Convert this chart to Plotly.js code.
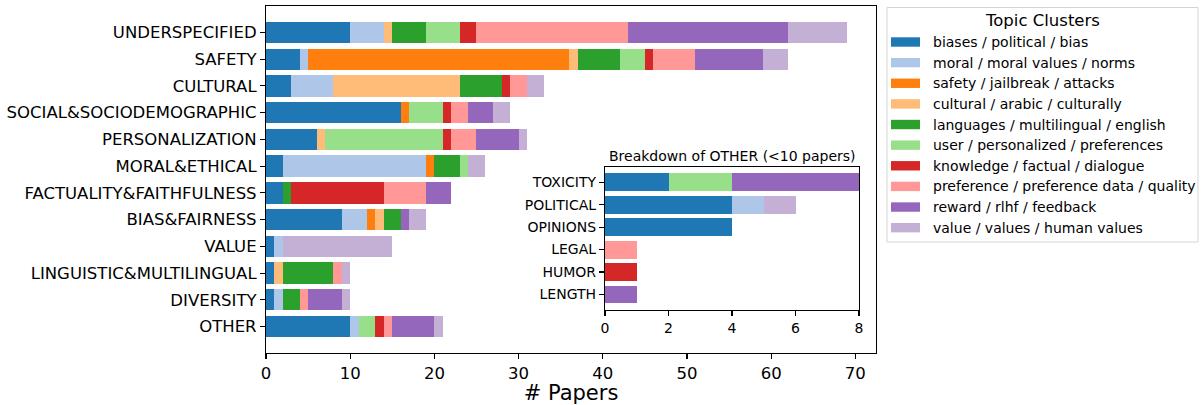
<!DOCTYPE html>
<html>
<head>
<meta charset="utf-8">
<script src="https://cdn.plot.ly/plotly-3.0.1.min.js"></script>
<style>html,body{margin:0;padding:0;background:#fff;}#chart{width:1203px;height:405px;}</style>
</head>
<body>
<div id="chart"></div>
<script>
// ---- data ----
const categories = ["UNDERSPECIFIED","SAFETY","CULTURAL","SOCIAL&SOCIODEMOGRAPHIC","PERSONALIZATION","MORAL&ETHICAL","FACTUALITY&FAITHFULNESS","BIAS&FAIRNESS","VALUE","LINGUISTIC&MULTILINGUAL","DIVERSITY","OTHER"];
const clusterNames = ["biases / political / bias","moral / moral values / norms","safety / jailbreak / attacks","cultural / arabic / culturally","languages / multilingual / english","user / personalized / preferences","knowledge / factual / dialogue","preference / preference data / quality","reward / rlhf / feedback","value / values / human values"];
const clusterColors = ["#1f77b4","#aec7e8","#ff7f0e","#ffbb78","#2ca02c","#98df8a","#d62728","#ff9896","#9467bd","#c5b0d5"];

const biases     = [10, 4,  3, 16,  6,  2,  2, 9,  1, 1, 1, 10];
const moral      = [ 4, 1,  5,  0,  0, 17,  0, 3,  1, 0, 1,  1];
const safety     = [ 0,31,  0,  1,  0,  1,  0, 1,  0, 0, 0,  0];
const cultural   = [ 1, 1, 15,  0,  1,  0,  0, 1,  0, 1, 0,  0];
const languages  = [ 4, 5,  5,  0,  0,  3,  1, 2,  0, 6, 2,  0];
const user       = [ 4, 3,  0,  4, 14,  1,  0, 0,  0, 0, 0,  2];
const knowledge  = [ 2, 1,  1,  1,  1,  0, 11, 0,  0, 0, 0,  1];
const preference = [18, 5,  2,  2,  3,  0,  5, 0,  0, 1, 1,  1];
const reward     = [19, 8,  0,  3,  5,  0,  3, 1,  0, 0, 4,  5];
const value      = [ 7, 3,  2,  2,  1,  2,  0, 2, 13, 1, 1,  1];

const otherCategories = ["TOXICITY","POLITICAL","OPINIONS","LEGAL","HUMOR","LENGTH"];
const oBiases     = [2,4,4,0,0,0];
const oMoral      = [0,1,0,0,0,0];
const oSafety     = [0,0,0,0,0,0];
const oCultural   = [0,0,0,0,0,0];
const oLanguages  = [0,0,0,0,0,0];
const oUser       = [2,0,0,0,0,0];
const oKnowledge  = [0,0,0,0,1,0];
const oPreference = [0,0,0,1,0,0];
const oReward     = [4,0,0,0,0,1];
const oValue      = [0,1,0,0,0,0];

const mainSeries = [biases,moral,safety,cultural,languages,user,knowledge,preference,reward,value];
const otherSeries = [oBiases,oMoral,oSafety,oCultural,oLanguages,oUser,oKnowledge,oPreference,oReward,oValue];

// ---- geometry helpers (pixel -> paper) ----
const L = 266, R = 876, T = 6, B = 353;
const W = 1203, H = 405;
const xp = px => (px - L) / (R - L);
const yp = py => (B - py) / (B - T);
const FONT = "DejaVu Sans";

const traces = [];
mainSeries.forEach((s, i) => {
  traces.push({type:"bar", orientation:"h", x:s, y:categories, name:clusterNames[i],
    marker:{color:clusterColors[i], line:{width:0}}, xaxis:"x", yaxis:"y", showlegend:false, hoverinfo:"x+y+name"});
});
otherSeries.forEach((s, i) => {
  traces.push({type:"bar", orientation:"h", x:s, y:otherCategories, name:clusterNames[i],
    marker:{color:clusterColors[i], line:{width:0}}, xaxis:"x2", yaxis:"y2", showlegend:false, hoverinfo:"x+y+name"});
});

const shapes = [];
const annotations = [];

// legend box
shapes.push({type:"rect", xref:"paper", yref:"paper", x0:xp(887), x1:xp(1198), y0:yp(242), y1:yp(7.5),
  line:{color:"#d5d5d5", width:1}, fillcolor:"rgba(255,255,255,0.8)", layer:"above"});
annotations.push({xref:"paper", yref:"paper", x:xp(1042), y:yp(20), text:"Topic Clusters", showarrow:false,
  xanchor:"center", yanchor:"middle", font:{family:FONT, size:16.5, color:"#000"}});
clusterNames.forEach((n, i) => {
  const cy = 42 + i * 20.63;
  shapes.push({type:"rect", xref:"paper", yref:"paper", x0:xp(891), x1:xp(920), y0:yp(cy+4.7), y1:yp(cy-4.7),
    line:{width:0}, fillcolor:clusterColors[i], layer:"above"});
  annotations.push({xref:"paper", yref:"paper", x:xp(931), y:yp(cy), text:n, showarrow:false,
    xanchor:"left", yanchor:"middle", font:{family:FONT, size:14, color:"#000"}});
});

// inset title
annotations.push({xref:"paper", yref:"paper", x:(xp(605)+xp(859))/2, y:yp(166.7), yshift:1, text:"Breakdown of OTHER (<10 papers)",
  showarrow:false, xanchor:"center", yanchor:"bottom", font:{family:FONT, size:14, color:"#000"}});

const axCommon = {showgrid:false, zeroline:false, showline:true, mirror:true, linecolor:"#000", linewidth:1.1,
  ticks:"outside", ticklen:5, tickwidth:1.1, tickcolor:"#000"};

const layout = {
  width:W, height:H,
  margin:{l:L, r:W-R, t:T, b:H-B, pad:0},
  paper_bgcolor:"#fff", plot_bgcolor:"#fff",
  barmode:"stack", bargap:0.2,
  font:{family:FONT, color:"#000"},
  showlegend:false,
  xaxis:Object.assign({}, axCommon, {domain:[0,1], range:[0,72.45], tickvals:[0,10,20,30,40,50,60,70],
    tickfont:{family:FONT, size:16.5, color:"#000"}, anchor:"y",
    title:{text:"# Papers", font:{family:FONT, size:21, color:"#000"}, standoff:2}}),
  yaxis:Object.assign({}, axCommon, {domain:[0,1], range:[11.99,-0.99], type:"category", anchor:"x",
    tickfont:{family:FONT, size:16.5, color:"#000"}}),
  xaxis2:Object.assign({}, axCommon, {domain:[xp(605), xp(859)], range:[0,8], tickvals:[0,2,4,6,8], anchor:"y2",
    tickfont:{family:FONT, size:14, color:"#000"}}),
  yaxis2:Object.assign({}, axCommon, {domain:[yp(310), yp(166.7)], range:[5.69,-0.69], type:"category", anchor:"x2",
    tickfont:{family:FONT, size:14, color:"#000"}}),
  shapes:shapes,
  annotations:annotations
};

Plotly.newPlot("chart", traces, layout, {displayModeBar:false, staticPlot:true});
</script>
</body>
</html>
